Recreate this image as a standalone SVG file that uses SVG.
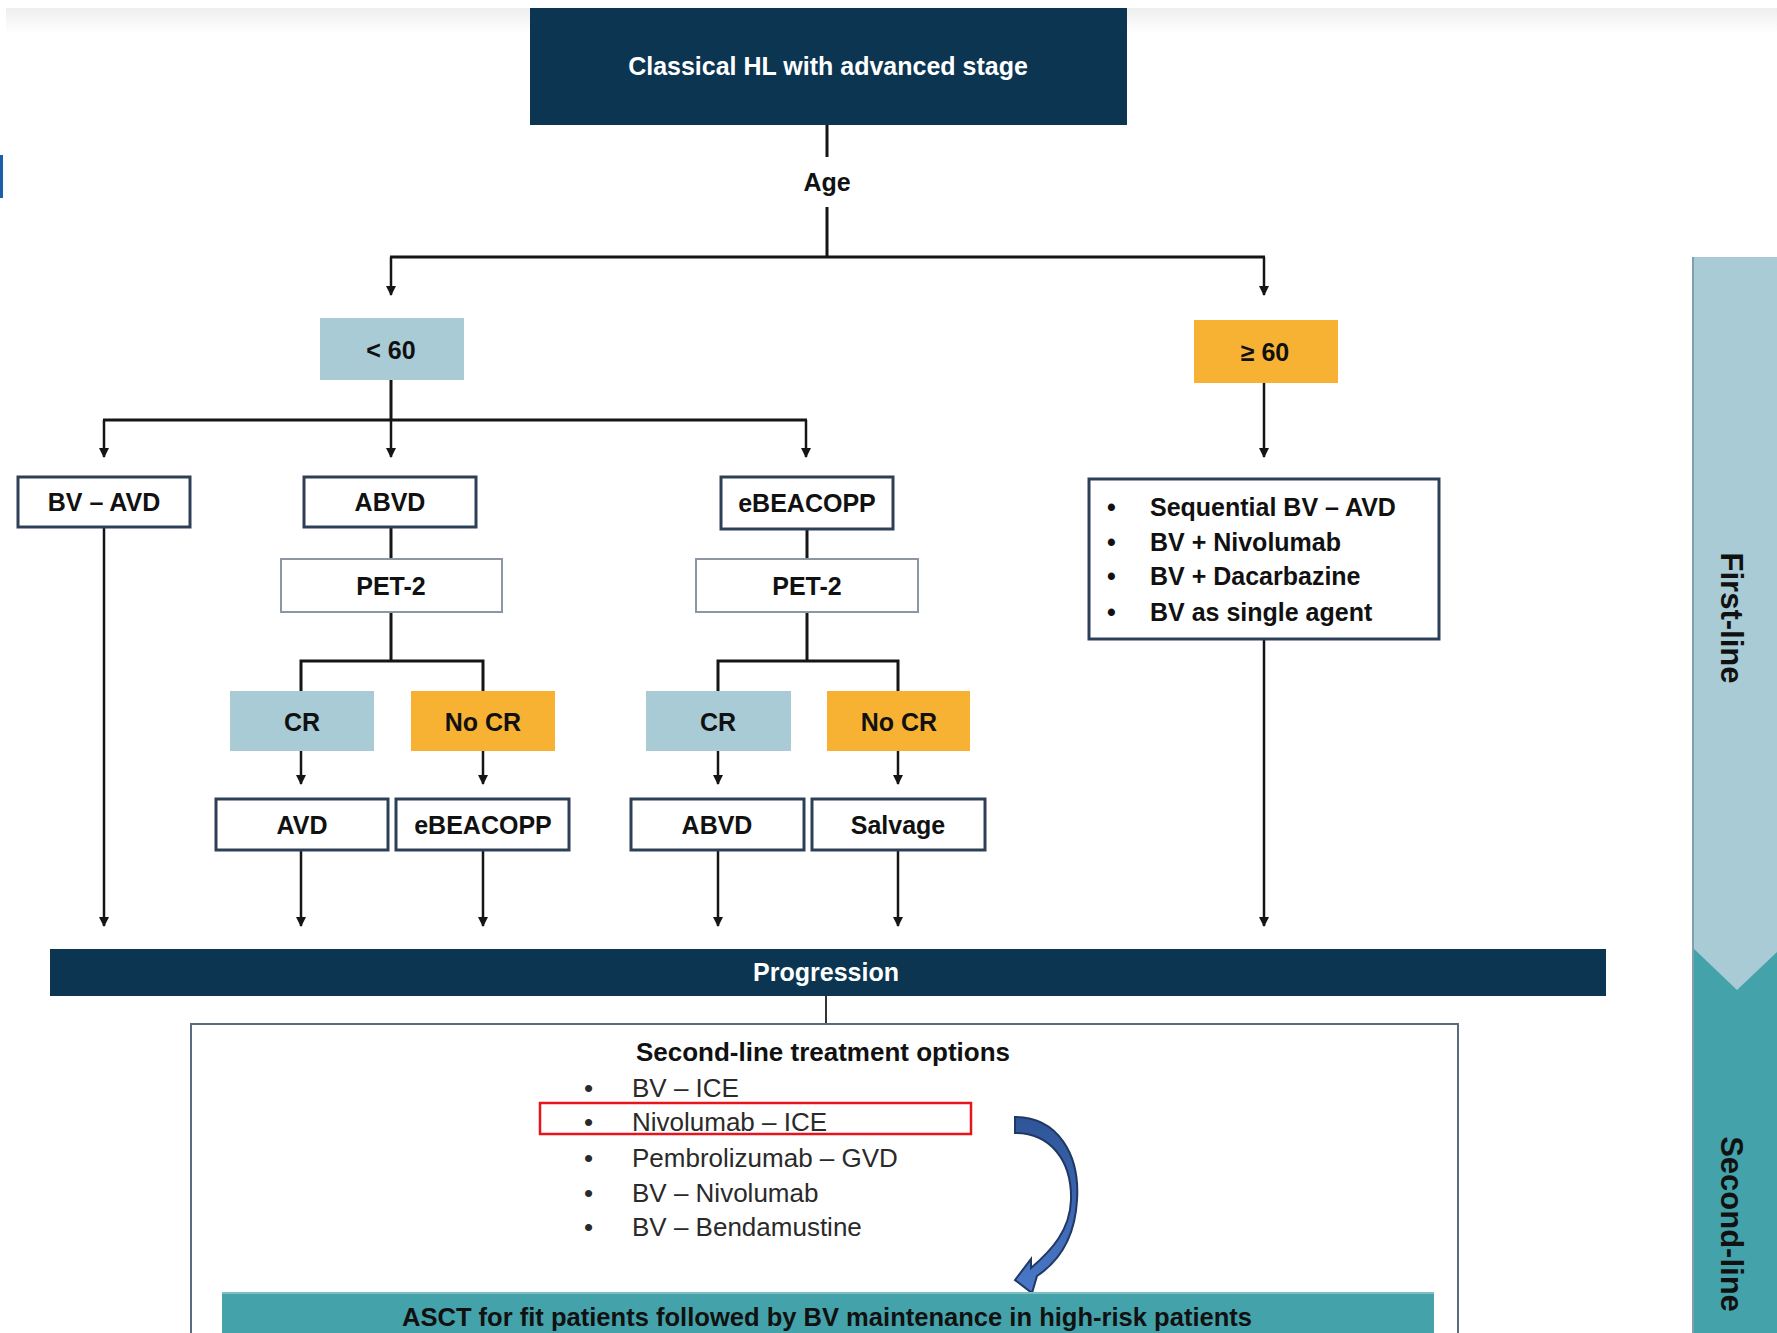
<svg xmlns="http://www.w3.org/2000/svg" width="1777" height="1333" viewBox="0 0 1777 1333">
<defs>
<style>
text{font-family:"Liberation Sans",Arial,sans-serif;fill:#111;}
.b{font-weight:bold;}
.w{fill:#fff;}
.c{text-anchor:middle;dominant-baseline:central;}
.l{dominant-baseline:central;}
.box{fill:#fff;stroke:#2e4057;stroke-width:3;}
.pet{fill:#fff;stroke:#8c97a3;stroke-width:2;}
.lb{fill:#a8cbd6;}
.or{fill:#f7b234;}
.navy{fill:#0b3551;}
.teal{fill:#44a3aa;}
.ln{stroke:#151515;stroke-width:3;fill:none;}
.ar{stroke:#151515;stroke-width:2.5;fill:none;marker-end:url(#ah);}
.reg{font-size:26px;fill:#2a2a2a;}
</style>
<marker id="ah" viewBox="0 0 10 10" refX="9" refY="5" markerWidth="4" markerHeight="4" orient="auto" markerUnits="strokeWidth">
<path d="M0,0 L10,5 L0,10 Z" fill="#151515"/>
</marker>
<linearGradient id="topg" x1="0" y1="0" x2="0" y2="1">
<stop offset="0" stop-color="#eeeeee"/><stop offset="1" stop-color="#ffffff"/>
</linearGradient>
<linearGradient id="blueg" x1="0" y1="0" x2="0" y2="1">
<stop offset="0" stop-color="#2f5597"/><stop offset="1" stop-color="#4a78c8"/>
</linearGradient>
</defs>
<rect width="1777" height="1333" fill="#fff"/>
<rect x="6" y="8" width="1771" height="26" fill="url(#topg)"/>
<rect x="0" y="155" width="3" height="43" fill="#1a5fa8"/>

<g id="side-bar">
<rect x="1692" y="900" width="85" height="433" class="teal"/>
<polygon points="1692,257 1777,257 1777,952 1737,990 1692,947" class="lb"/>
<line x1="1693" y1="257" x2="1693" y2="1333" stroke="#7e9fae" stroke-width="2"/>
<text class="b c" font-size="31" transform="translate(1731,618) rotate(90)">First-line</text>
<text class="b c" font-size="31" transform="translate(1731,1224) rotate(90)">Second-line</text>
</g>

<g id="connectors">
<line class="ln" x1="827" y1="125" x2="827" y2="157"/>
<line class="ln" x1="827" y1="207" x2="827" y2="258"/>
<line class="ln" x1="390" y1="257" x2="1265" y2="257"/>
<line class="ar" x1="391" y1="257" x2="391" y2="295"/>
<line class="ar" x1="1264" y1="257" x2="1264" y2="295"/>
<line class="ln" x1="391" y1="380" x2="391" y2="420"/>
<line class="ln" x1="103" y1="420" x2="807" y2="420"/>
<line class="ar" x1="104" y1="420" x2="104" y2="457"/>
<line class="ar" x1="391" y1="420" x2="391" y2="457"/>
<line class="ar" x1="806" y1="420" x2="806" y2="457"/>
<line class="ar" x1="1264" y1="383" x2="1264" y2="457"/>
<line class="ln" x1="391" y1="527" x2="391" y2="559"/>
<line class="ln" x1="391" y1="612" x2="391" y2="661"/>
<polyline class="ln" points="301,691 301,661 483,661 483,691"/>
<line class="ln" x1="807" y1="529" x2="807" y2="559"/>
<line class="ln" x1="807" y1="612" x2="807" y2="661"/>
<polyline class="ln" points="718,691 718,661 898,661 898,691"/>
<line class="ar" x1="301" y1="751" x2="301" y2="784"/>
<line class="ar" x1="483" y1="751" x2="483" y2="784"/>
<line class="ar" x1="718" y1="751" x2="718" y2="784"/>
<line class="ar" x1="898" y1="751" x2="898" y2="784"/>
<line class="ar" x1="104" y1="527" x2="104" y2="926"/>
<line class="ar" x1="301" y1="850" x2="301" y2="926"/>
<line class="ar" x1="483" y1="850" x2="483" y2="926"/>
<line class="ar" x1="718" y1="850" x2="718" y2="926"/>
<line class="ar" x1="898" y1="850" x2="898" y2="926"/>
<line class="ar" x1="1264" y1="639" x2="1264" y2="926"/>
<line x1="826" y1="996" x2="826" y2="1024" stroke="#333" stroke-width="2"/>
</g>

<g id="n-top"><rect x="530" y="8" width="597" height="117" class="navy"/>
<text class="b c w" x="828" y="66" font-size="25">Classical HL with advanced stage</text></g>
<g id="n-age"><text class="b c" x="827" y="182" font-size="25">Age</text></g>
<g id="n-lt60"><rect x="320" y="318" width="144" height="62" class="lb"/>
<text class="b c" x="391" y="350" font-size="25">&lt; 60</text></g>
<g id="n-ge60"><rect x="1194" y="320" width="144" height="63" class="or"/>
<text class="b c" x="1265" y="352" font-size="25">≥ 60</text></g>

<g id="n-bvavd"><rect x="18" y="477" width="172" height="50" class="box"/>
<text class="b c" x="104" y="502" font-size="25">BV – AVD</text></g>
<g id="n-abvd1"><rect x="304" y="477" width="172" height="50" class="box"/>
<text class="b c" x="390" y="502" font-size="25">ABVD</text></g>
<g id="n-ebea1"><rect x="721" y="477" width="172" height="52" class="box"/>
<text class="b c" x="807" y="503" font-size="25">eBEACOPP</text></g>
<g id="n-pet1"><rect x="281" y="559" width="221" height="53" class="pet"/>
<text class="b c" x="391" y="586" font-size="25">PET-2</text></g>
<g id="n-pet2"><rect x="696" y="559" width="222" height="53" class="pet"/>
<text class="b c" x="807" y="586" font-size="25">PET-2</text></g>
<g id="n-cr1"><rect x="230" y="691" width="144" height="60" class="lb"/>
<text class="b c" x="302" y="722" font-size="25">CR</text></g>
<g id="n-nocr1"><rect x="411" y="691" width="144" height="60" class="or"/>
<text class="b c" x="483" y="722" font-size="25">No CR</text></g>
<g id="n-cr2"><rect x="646" y="691" width="145" height="60" class="lb"/>
<text class="b c" x="718" y="722" font-size="25">CR</text></g>
<g id="n-nocr2"><rect x="827" y="691" width="143" height="60" class="or"/>
<text class="b c" x="899" y="722" font-size="25">No CR</text></g>
<g id="n-avd"><rect x="216" y="799" width="172" height="51" class="box"/>
<text class="b c" x="302" y="825" font-size="25">AVD</text></g>
<g id="n-ebea2"><rect x="396" y="799" width="173" height="51" class="box"/>
<text class="b c" x="483" y="825" font-size="25">eBEACOPP</text></g>
<g id="n-abvd2"><rect x="631" y="799" width="173" height="51" class="box"/>
<text class="b c" x="717" y="825" font-size="25">ABVD</text></g>
<g id="n-salvage"><rect x="812" y="799" width="173" height="51" class="box"/>
<text class="b c" x="898" y="825" font-size="25">Salvage</text></g>

<g id="n-elderly"><rect x="1089" y="479" width="350" height="160" class="box"/>
<text class="b l" font-size="25">
<tspan x="1107" y="507">•</tspan><tspan x="1150" y="507">Sequential BV – AVD</tspan>
<tspan x="1107" y="542">•</tspan><tspan x="1150" y="542">BV + Nivolumab</tspan>
<tspan x="1107" y="576">•</tspan><tspan x="1150" y="576">BV + Dacarbazine</tspan>
<tspan x="1107" y="612">•</tspan><tspan x="1150" y="612">BV as single agent</tspan>
</text></g>

<g id="n-progression"><rect x="50" y="949" width="1556" height="47" class="navy"/>
<text class="b c w" x="826" y="972" font-size="25">Progression</text></g>

<g id="n-second"><rect x="191" y="1024" width="1267" height="330" fill="#fff" stroke="#5a6b80" stroke-width="2"/>
<text class="b c" x="823" y="1052" font-size="26">Second-line treatment options</text>
<text class="reg l">
<tspan x="584" y="1088">•</tspan><tspan x="632" y="1088">BV – ICE</tspan>
<tspan x="584" y="1122">•</tspan><tspan x="632" y="1122">Nivolumab – ICE</tspan>
<tspan x="584" y="1158">•</tspan><tspan x="632" y="1158">Pembrolizumab – GVD</tspan>
<tspan x="584" y="1193">•</tspan><tspan x="632" y="1193">BV – Nivolumab</tspan>
<tspan x="584" y="1227">•</tspan><tspan x="632" y="1227">BV – Bendamustine</tspan>
</text>
<rect x="540" y="1103" width="431" height="31" fill="none" stroke="#e8141c" stroke-width="2.5"/>
<path d="M1015,1117 C1058,1117 1080,1155 1077,1200 C1075,1238 1058,1262 1037,1276 L1032,1293 L1015,1280 L1031,1259 L1031,1268 C1052,1250 1070,1230 1071,1200 C1072,1160 1050,1133 1015,1133 Z" fill="url(#blueg)" stroke="#1f3864" stroke-width="2"/>
</g>

<g id="n-asct"><rect x="222" y="1292" width="1212" height="45" class="teal"/>
<line x1="222" y1="1293" x2="1434" y2="1293" stroke="#7cc0c4" stroke-width="2"/>
<text class="b c" x="827" y="1317" font-size="25" textLength="850" lengthAdjust="spacingAndGlyphs">ASCT for fit patients followed by BV maintenance in high-risk patients</text></g>
</svg>
